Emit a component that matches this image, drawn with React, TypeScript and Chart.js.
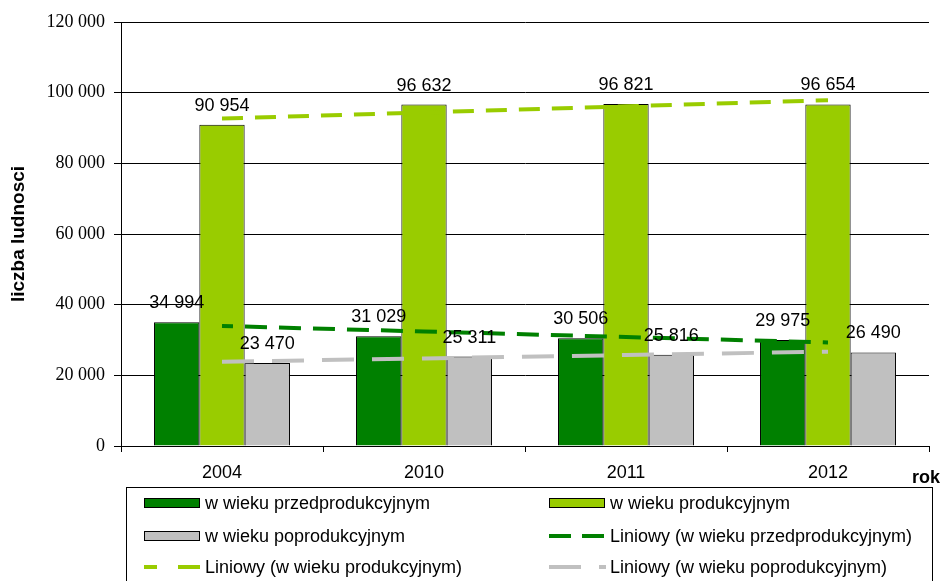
import React, { useEffect, useRef } from 'react';
import { Chart, registerables } from 'chart.js';

Chart.register(...registerables);

const categories = ['2004', '2010', '2011', '2012'];
const preProd = [34994, 31029, 30506, 29975];
const prod = [90954, 96632, 96821, 96654];
const postProd = [23470, 25311, 25816, 26490];
const trendPre = [33963, 32405, 30847, 29289];
const trendProd = [92672, 94401, 96130, 97859];
const trendPost = [23837, 24794, 25750, 26707];

const seriesNames = [
  'w wieku przedprodukcyjnym',
  'w wieku produkcyjnym',
  'w wieku poprodukcyjnym',
  'Liniowy (w wieku przedprodukcyjnym)',
  'Liniowy (w wieku produkcyjnym)',
  'Liniowy (w wieku poprodukcyjnym)',
];

const yTitle = 'liczba ludnosci';
const xTitle = 'rok';

const SANS = "'Liberation Sans', Arial, sans-serif";
const SERIF = "'Liberation Serif', 'Times New Roman', serif";

const fmt = (v: number) => String(v).replace(/\B(?=(\d{3})+(?!\d))/g, ' ');

export default function App() {
  const ref = useRef<HTMLCanvasElement>(null);

  useEffect(() => {
    if (!ref.current) return;

    const barLabels = {
      id: 'barLabels',
      afterDatasetsDraw(chart: any) {
        const ctx = chart.ctx;
        ctx.save();
        ctx.font = `18px ${SANS}`;
        ctx.fillStyle = '#000';
        ctx.textAlign = 'center';
        ctx.textBaseline = 'alphabetic';
        chart.data.datasets.forEach((ds: any, i: number) => {
          if (ds.type !== 'bar') return;
          const meta = chart.getDatasetMeta(i);
          meta.data.forEach((el: any, j: number) => {
            ctx.fillText(fmt(ds.data[j]), el.x, el.y - 14);
          });
        });
        ctx.restore();
      },
    };

    const customLegend = {
      id: 'customLegend',
      afterDraw(chart: any) {
        const ctx = chart.ctx;
        ctx.save();
        // "rok" axis label
        ctx.font = `bold 18px ${SANS}`;
        ctx.fillStyle = '#000';
        ctx.textAlign = 'left';
        ctx.textBaseline = 'alphabetic';
        ctx.fillText(xTitle, 912, 483);

        // legend frame
        ctx.strokeStyle = '#000';
        ctx.lineWidth = 1;
        ctx.strokeRect(126.5, 487.5, 806, 120);

        const cols = [144, 549];
        const rows = [503, 536, 567];
        const segs: Record<number, number[][]> = {
          3: [[0, 22], [33, 55]],
          4: [[0, 13], [34, 56]],
          5: [[0, 32], [50, 57]],
        };
        const ds = chart.data.datasets;
        ds.forEach((d: any, i: number) => {
          const x = cols[i % 2];
          const y = rows[Math.floor(i / 2)];
          if (d.type === 'bar') {
            ctx.fillStyle = d.backgroundColor;
            ctx.fillRect(x, y - 4.5, 56, 9);
            ctx.strokeStyle = '#000';
            ctx.lineWidth = 1;
            ctx.strokeRect(x + 0.5, y - 4.5, 55, 9);
          } else {
            ctx.strokeStyle = d.borderColor;
            ctx.lineWidth = 4;
            ctx.lineCap = 'butt';
            (segs[i] || []).forEach((s) => {
              ctx.beginPath();
              ctx.moveTo(x + s[0], y);
              ctx.lineTo(x + s[1], y);
              ctx.stroke();
            });
          }
          ctx.font = `18px ${SANS}`;
          ctx.fillStyle = '#000';
          ctx.textAlign = 'left';
          ctx.textBaseline = 'middle';
          ctx.fillText(d.label, x + 61, y + 1);
        });
        ctx.restore();
      },
    };

    const chart = new Chart(ref.current, {
      type: 'bar',
      data: {
        labels: categories,
        datasets: [
          { type: 'bar', label: seriesNames[0], data: preProd, backgroundColor: '#008000', borderColor: '#000', borderWidth: 1, order: 1 },
          { type: 'bar', label: seriesNames[1], data: prod, backgroundColor: '#99CC00', borderColor: '#000', borderWidth: 1, order: 1 },
          { type: 'bar', label: seriesNames[2], data: postProd, backgroundColor: '#C0C0C0', borderColor: '#000', borderWidth: 1, order: 1 },
          { type: 'line', label: seriesNames[3], data: trendPre, borderColor: '#008000', borderWidth: 4, borderDash: [22, 12], borderDashOffset: 11, pointRadius: 0, fill: false, tension: 0, order: 0 },
          { type: 'line', label: seriesNames[4], data: trendProd, borderColor: '#99CC00', borderWidth: 4, borderDash: [21, 12], pointRadius: 0, fill: false, tension: 0, order: 0 },
          { type: 'line', label: seriesNames[5], data: trendPost, borderColor: '#C0C0C0', borderWidth: 4, borderDash: [32, 18], pointRadius: 0, fill: false, tension: 0, order: 0 },
        ] as any,
      },
      options: {
        responsive: false,
        animation: false,
        devicePixelRatio: 1,
        layout: { padding: { top: 22, right: 12, left: 0, bottom: 0 } },
        datasets: { bar: { categoryPercentage: 0.673, barPercentage: 1 } },
        plugins: {
          legend: { display: false },
          tooltip: { enabled: false },
        },
        scales: {
          x: {
            offset: true,
            grid: { display: true, drawOnChartArea: false, drawTicks: true, tickLength: 6, color: '#000', lineWidth: 1, offset: true },
            border: { display: true, color: '#000', width: 1 },
            ticks: { color: '#000', font: { family: SANS, size: 18 }, padding: 10, maxRotation: 0 },
            afterFit: (s: any) => { s.height = 135; },
          },
          y: {
            min: 0,
            max: 120000,
            ticks: { stepSize: 20000, color: '#000', font: { family: SERIF, size: 18 }, padding: 9, callback: (v: any) => fmt(Number(v)) },
            grid: { color: '#000', lineWidth: 1, tickLength: 7, drawTicks: true },
            border: { display: true, color: '#000', width: 1 },
            title: { display: true, text: yTitle, color: '#000', font: { family: SANS, size: 19, weight: 'bold' }, padding: { top: 7, bottom: 0 } },
            afterFit: (s: any) => { s.width = 121; },
          },
        },
      } as any,
      plugins: [barLabels, customLegend],
    });

    return () => chart.destroy();
  }, []);

  return (
    <div style={{ position: 'absolute', left: 0, top: 0, width: 941, height: 581, background: '#fff' }}>
      <canvas ref={ref} width={941} height={581} style={{ display: 'block' }} />
    </div>
  );
}
